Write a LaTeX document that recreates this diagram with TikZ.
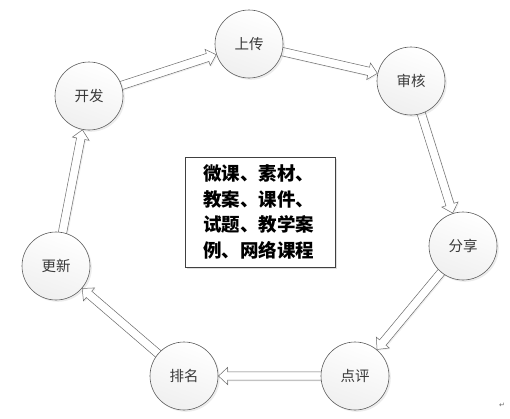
\documentclass[tikz,border=0pt]{standalone}
\usepackage{fontspec}
\newfontfamily\cjk{Noto Sans CJK SC}
\newfontfamily\symf{DejaVu Sans}
\usetikzlibrary{calc,shadows}
\definecolor{edgegray}{HTML}{5A5A5A}
\definecolor{textgray}{HTML}{3A3A3A}
\tikzset{
  stage/.style={circle, minimum size=68pt, inner sep=0pt, draw=edgegray, line width=0.6pt,
    top color=white, bottom color=black!6, shading angle=-20,
    drop shadow={opacity=0.15, shadow xshift=1.8pt, shadow yshift=-1.8pt},
    font=\cjk\fontsize{14.5}{16}\selectfont, text=textgray},
  blockarrow/.style={draw=edgegray!90, fill=white, line width=0.5pt, line join=miter,
    drop shadow={opacity=0.12, shadow xshift=1.2pt, shadow yshift=-1.2pt}},
  centerbox/.style={draw=black!75, line width=0.6pt, fill=white, minimum width=150pt, minimum height=110pt,
    text width=114pt, align=left, inner sep=0pt,
    drop shadow={opacity=0.25, shadow xshift=2pt, shadow yshift=-2pt},
    font=\cjk\bfseries\fontsize{18.5}{25.5}\selectfont}
}
\newcommand\blockarr[2]{%
  \path ($(#1.center)!30pt!(#2.center)$) coordinate (S)
        ($(#2.center)!34.5pt!(#1.center)$) coordinate (E);
  \path ($(E)!9pt!(S)$) coordinate (H);
  \draw[blockarrow] ($(S)!4.2pt!90:(E)$) -- ($(H)!4.2pt!-90:(S)$) -- ($(H)!8.5pt!-90:(S)$) -- (E)
     -- ($(H)!8.5pt!90:(S)$) -- ($(H)!4.2pt!90:(S)$) -- ($(S)!4.2pt!-90:(E)$) -- cycle;}
\begin{document}
\begin{tikzpicture}[x=1pt,y=-1pt]
\useasboundingbox (0,0) rectangle (510,418);
% coordinates for centers
\coordinate (p1) at (89,96);
\coordinate (p2) at (249,44);
\coordinate (p3) at (411,81);
\coordinate (p4) at (463,246);
\coordinate (p5) at (355,376);
\coordinate (p6) at (184,376);
\coordinate (p7) at (56,266);
% arrows (behind circles)
\blockarr{p1}{p2}
\blockarr{p2}{p3}
\blockarr{p3}{p4}
\blockarr{p4}{p5}
\blockarr{p5}{p6}
\blockarr{p6}{p7}
\blockarr{p7}{p1}
% circles
\node[stage] (kf) at (p1) {开发};
\node[stage] (sc) at (p2) {上传};
\node[stage] (sh) at (p3) {审核};
\node[stage] (fx) at (p4) {分享};
\node[stage] (dp) at (p5) {点评};
\node[stage] (pm) at (p6) {排名};
\node[stage] (gx) at (p7) {更新};
% center box
\node[centerbox] (box) at (260,212) {微课、素材、\\教案、课件、\\试题、教学案\\例、网络课程};
% paragraph mark
\node[font=\symf\fontsize{7}{8}\selectfont, text=black!60, inner sep=0pt] (pmark) at (502,405) {↵};
\end{tikzpicture}
\end{document}
